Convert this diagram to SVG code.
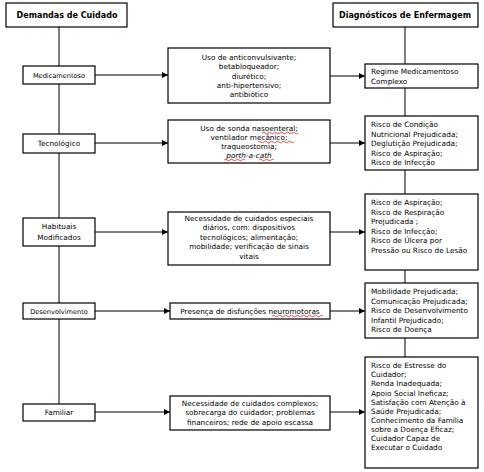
<svg xmlns="http://www.w3.org/2000/svg" width="484" height="472" viewBox="0 0 484 472">
<style>
.bx{fill:#fff;stroke:#000;stroke-width:1.2}
.t{font-family:"DejaVu Sans",Verdana,sans-serif;font-size:7.3px;fill:#000}
.h{font-family:"DejaVu Sans",Verdana,sans-serif;font-size:8px;font-weight:bold;fill:#000}
.c{text-anchor:middle}
.ln{stroke:#000;stroke-width:1;fill:none}
.sp{stroke:#e00000;stroke-width:0.7;fill:none}
</style>
<defs>
<marker id="ah" viewBox="0 0 10 10" refX="10" refY="5" markerWidth="6" markerHeight="6" orient="auto" markerUnits="userSpaceOnUse">
<path d="M0,0 L10,5 L0,10 z" fill="#000"/>
</marker>
</defs>
<rect width="484" height="472" fill="#fff"/>
<g id="connectors">
<path class="ln" d="M59,27 V404"/>
<path class="ln" d="M405,27 V357"/>
<path class="ln" d="M95,75 H168" marker-end="url(#ah)"/>
<path class="ln" d="M330,76 H365" marker-end="url(#ah)"/>
<path class="ln" d="M95,143 H168" marker-end="url(#ah)"/>
<path class="ln" d="M330,143 H365" marker-end="url(#ah)"/>
<path class="ln" d="M95,232 H168" marker-end="url(#ah)"/>
<path class="ln" d="M330,232 H365" marker-end="url(#ah)"/>
<path class="ln" d="M95,311 H170" marker-end="url(#ah)"/>
<path class="ln" d="M330,311 H365" marker-end="url(#ah)"/>
<path class="ln" d="M95,412 H170" marker-end="url(#ah)"/>
<path class="ln" d="M330,412 H365" marker-end="url(#ah)"/>
</g>
<g id="hdr-left">
<rect class="bx" x="6" y="3" width="121" height="24"/>
<text class="h c" x="67" y="18">Demandas de Cuidado</text>
</g>
<g id="hdr-right">
<rect class="bx" x="333" y="3" width="145" height="24"/>
<text class="h c" x="405" y="18">Diagnósticos de Enfermagem</text>
</g>
<g id="medicamentoso">
<rect class="bx" x="23" y="66" width="72" height="18"/>
<text class="t c" x="59" y="78" style="font-size:6.6px">Medicamentoso</text>
</g>
<g id="tecnologico">
<rect class="bx" x="23" y="134" width="72" height="19"/>
<text class="t c" x="59" y="146">Tecnológico</text>
</g>
<g id="habituais">
<rect class="bx" x="23" y="218" width="72" height="28"/>
<text class="t c" x="59" y="229">Habituais</text>
<text class="t c" x="59" y="240">Modificados</text>
</g>
<g id="desenvolvimento">
<rect class="bx" x="23" y="303" width="72" height="16"/>
<text class="t c" x="59" y="314" style="font-size:6.6px">Desenvolvimento</text>
</g>
<g id="familiar">
<rect class="bx" x="23" y="404" width="72" height="17"/>
<text class="t c" x="59" y="415">Familiar</text>
</g>
<g id="dem-med">
<rect class="bx" x="168" y="48" width="162" height="55"/>
<text class="t c" x="249" y="60">Uso de anticonvulsivante;</text>
<text class="t c" x="249" y="69">betabloqueador;</text>
<text class="t c" x="249" y="79">diurético;</text>
<text class="t c" x="249" y="88">anti-hipertensivo;</text>
<text class="t c" x="249" y="97">antibiótico</text>
</g>
<g id="dem-tec">
<rect class="bx" x="168" y="120" width="162" height="43"/>
<text class="t c" x="249" y="131">Uso de sonda nasoenteral;</text>
<text class="t c" x="249" y="140">ventilador mecânico;</text>
<text class="t c" x="249" y="149">traqueostomia;</text>
<text class="t c" x="249" y="158" font-style="italic">porth-a-cath</text>
<path class="sp" d="M262,133 q1.5,-1.5 3,0 t3,0 t3,0 t3,0 t3,0 t3,0 t3,0 t3,0 t3,0 t3,0 t3,0 t3,0"/>
<path class="sp" d="M258,142 q1.5,-1.5 3,0 t3,0 t3,0 t3,0 t3,0 t3,0 t3,0 t3,0 t3,0 t3,0 t3,0 t3,0"/>
<path class="sp" d="M224,160 q1.5,-1.5 3,0 t3,0 t3,0 t3,0 t3,0 t3,0 t3,0"/>
<path class="sp" d="M259,160 q1.5,-1.5 3,0 t3,0 t3,0 t3,0 t3,0"/>
</g>
<g id="dem-hab">
<rect class="bx" x="168" y="212" width="162" height="53"/>
<text class="t c" x="249" y="221">Necessidade de cuidados especiais</text>
<text class="t c" x="249" y="230">diários, com: dispositivos</text>
<text class="t c" x="249" y="240">tecnológicos; alimentação;</text>
<text class="t c" x="249" y="249">mobilidade; verificação de sinais</text>
<text class="t c" x="249" y="259">vitais</text>
</g>
<g id="dem-des">
<rect class="bx" x="170" y="303" width="160" height="16"/>
<text class="t c" x="250" y="314">Presença de disfunções neuromotoras</text>
<path class="sp" d="M272,316 q1.5,-1.5 3,0 t3,0 t3,0 t3,0 t3,0 t3,0 t3,0 t3,0 t3,0 t3,0 t3,0 t3,0 t3,0 t3,0 t3,0 t3,0 t3,0"/>
</g>
<g id="dem-fam">
<rect class="bx" x="170" y="396" width="160" height="34"/>
<text class="t c" x="250" y="406">Necessidade de cuidados complexos;</text>
<text class="t c" x="250" y="415">sobrecarga do cuidador; problemas</text>
<text class="t c" x="250" y="425">financeiros; rede de apoio escassa</text>
</g>
<g id="dx-med">
<rect class="bx" x="365" y="64" width="113" height="24"/>
<text class="t" x="371" y="74">Regime Medicamentoso</text>
<text class="t" x="371" y="84">Complexo</text>
</g>
<g id="dx-tec">
<rect class="bx" x="365" y="116" width="113" height="54"/>
<text class="t" x="371" y="127">Risco de Condição</text>
<text class="t" x="371" y="137">Nutricional Prejudicada;</text>
<text class="t" x="371" y="146">Deglutição Prejudicada;</text>
<text class="t" x="371" y="156">Risco de Aspiração;</text>
<text class="t" x="371" y="165">Risco de Infecção</text>
</g>
<g id="dx-hab">
<rect class="bx" x="365" y="194" width="113" height="76"/>
<text class="t" x="371" y="205">Risco de Aspiração;</text>
<text class="t" x="371" y="215">Risco de Respiração</text>
<text class="t" x="371" y="224">Prejudicada ;</text>
<text class="t" x="371" y="234">Risco de Infecção;</text>
<text class="t" x="371" y="243">Risco de Úlcera por</text>
<text class="t" x="371" y="253">Pressão ou Risco de Lesão</text>
</g>
<g id="dx-des">
<rect class="bx" x="365" y="283" width="113" height="55"/>
<text class="t" x="371" y="294">Mobilidade Prejudicada;</text>
<text class="t" x="371" y="304">Comunicação Prejudicada;</text>
<text class="t" x="371" y="313">Risco de Desenvolvimento</text>
<text class="t" x="371" y="323">Infantil Prejudicado;</text>
<text class="t" x="371" y="332">Risco de Doença</text>
</g>
<g id="dx-fam">
<rect class="bx" x="365" y="357" width="113" height="111"/>
<text class="t" x="371" y="368">Risco de Estresse do</text>
<text class="t" x="371" y="377">Cuidador;</text>
<text class="t" x="371" y="386">Renda Inadequada;</text>
<text class="t" x="371" y="396">Apoio Social Ineficaz;</text>
<text class="t" x="371" y="405">Satisfação com Atenção à</text>
<text class="t" x="371" y="414">Saúde Prejudicada;</text>
<text class="t" x="371" y="423">Conhecimento da Família</text>
<text class="t" x="371" y="432">sobre a Doença Eficaz;</text>
<text class="t" x="371" y="441">Cuidador Capaz de</text>
<text class="t" x="371" y="450">Executar o Cuidado</text>
</g>
</svg>
